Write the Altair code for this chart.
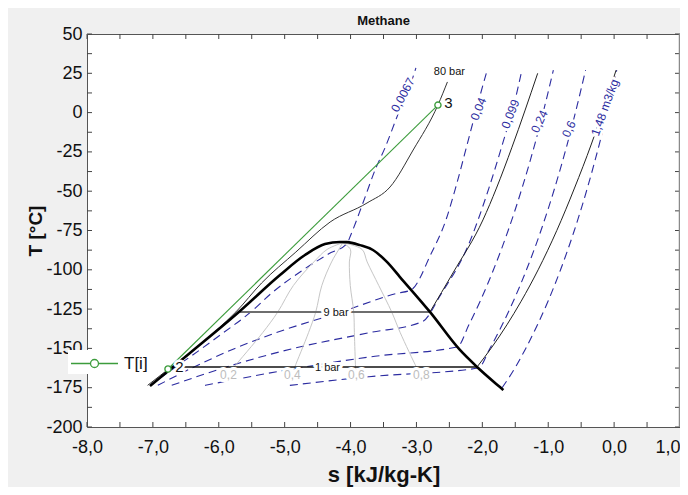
import altair as alt
import pandas as pd

FONT = "Arial, Liberation Sans, sans-serif"
GREEN = "#3c9c3c"
BLUE = "#2b2ba0"

# ---------------- axis values ----------------
x_labels = [-8, -7, -6, -5, -4, -3, -2, -1, 0, 1]
y_labels = [50, 25, 0, -25, -50, -75, -100, -125, -150, -175, -200]
x_ticks = [-8, -7.5, -7, -6.5, -6, -5.5, -5, -4.5, -4, -3.5, -3, -2.5, -2, -1.5, -1, -0.5, 0, 0.5, 1]
y_ticks = [50, 37.5, 25, 12.5, 0, -12.5, -25, -37.5, -50, -62.5, -75, -87.5, -100, -112.5,
           -125, -137.5, -150, -162.5, -175, -187.5, -200]

# ---------------- saturation dome ----------------
dome_s = [-7.044, -6.437, -5.678, -5.071, -4.692, -4.388, -4.161, -4.055, -3.857, -3.66, -3.448,
          -3.25, -2.795, -2.34, -2.08, -1.733, -1.68]
dome_T = [-173.9, -152.9, -126.2, -103.3, -90.6, -83.6, -82.3, -82.4, -84.3, -87.4, -95.0,
          -104.6, -126.8, -151.0, -161.8, -174.6, -176.5]

# ---------------- quality lines ----------------
q_T = [-82.8, -87, -95, -110, -126.8, -140, -161.8, -163.5]
q02_s = [-4.12, -4.354, -4.557, -4.868, -5.104, -5.334, -5.768, -5.80]
q04_s = [-4.12, -4.178, -4.288, -4.436, -4.528, -4.638, -4.846, -4.86]
q06_s = [-4.12, -4.002, -4.018, -4.004, -3.952, -3.942, -3.924, -3.92]
q08_s = [-4.12, -3.826, -3.748, -3.572, -3.376, -3.246, -3.002, -2.98]

# ---------------- isobars ----------------
p80_s = [-7.08, -6.78, -6.48, -6.03, -5.74, -5.35, -4.83, -4.31, -3.75, -3.40, -3.05, -2.674, -2.53]
p80_T = [-173.5, -163.7, -154.2, -138.3, -126.8, -108.4, -88.7, -69.6, -57.5, -47.3, -23.8, 4.8, 19.5]
p9_s = [-5.68, -2.795, -2.446, -1.991, -1.785, -1.55, -1.16]
p9_T = [-126.8, -126.8, -102, -68.3, -48, -22, 25]
p1_s = [-6.69, -2.08, -1.868, -1.627, -1.411, -1.153, -0.870, -0.601, -0.345, -0.14, 0.03]
p1_T = [-161.8, -161.8, -150, -135, -120, -100, -75, -48, -20, 5, 27]

# ---------------- isochores ----------------
v0067_s = [-7.044, -6.654, -6.256, -5.929, -5.513, -5.204, -4.718, -4.337, -4.05, -4.009, -3.812,
           -3.615, -3.478, -3.296, -3.068, -3.008]
v0067_T = [-173.5, -161.8, -150, -140, -126.8, -115, -100, -90, -83, -79.1, -57.5,
           -35.2, -22.5, -2.8, 20.7, 28.4]
v004_s = [-6.925, -6.375, -5.755, -5.13, -4.139, -3.30, -3.082, -2.78, -2.55, -2.40, -2.21, -2.04, -1.92]
v004_T = [-173.5, -161.8, -150, -140, -126.8, -115, -112.8, -90, -68, -47, -17, 10, 28]
v0099_s = [-6.714, -5.881, -4.867, -3.714, -2.912, -2.62, -2.23, -1.90, -1.68, -1.52, -1.40]
v0099_T = [-173.5, -161.8, -150, -140, -133, -115, -86, -48, -18, 5, 27]
v024_s = [-6.209, -4.70, -3.63, -2.378, -2.204, -2.033, -1.831, -1.608, -1.397, -1.203, -1.048, -0.922]
v024_T = [-173.5, -161.8, -155, -149, -135, -120, -100, -75, -48, -20, 5, 27]
v06_s = [-4.921, -3.72, -2.06, -1.885, -1.698, -1.530, -1.330, -1.110, -0.902, -0.711, -0.558, -0.433]
v06_T = [-173.5, -168, -162.5, -150, -135, -120, -100, -75, -48, -20, 5, 27]
v148_s = [-1.70, -1.542, -1.341, -1.163, -1.003, -0.813, -0.604, -0.406, -0.224, -0.078, 0.04]
v148_T = [-175, -165, -150, -135, -120, -100, -75, -48, -20, 5, 27]

# ---------------- process T[i] ----------------
ti_s = [-6.771, -2.674]
ti_T = [-163.1, 4.8]
ti_name = "T[i]"

# ---------------- labels ----------------
iso_text = ["0,0067", "0,04", "0,099", "0,24", "0,6", "1,48 m3/kg"]
iso_s = [-3.205, -2.059, -1.574, -1.134, -0.686, -0.14]
iso_T = [11.2, 2.3, -0.9, -5.7, -10.4, 3.2]
iso_angle = [298, 292, 291, 295, 295, 290]

bar_text = ["80 bar", "9 bar", "1 bar"]
bar_s = [-2.50, -4.22, -4.35]
bar_T = [26.0, -127.3, -162.3]

qual_text = ["0,2", "0,4", "0,6", "0,8"]
qual_s = [-5.853, -4.882, -3.911, -2.924]
qual_T = [-166.9, -166.9, -166.9, -166.9]

pt_text = ["2", "3"]
pt_s = [-6.596, -2.514]
pt_T = [-161.8, 6.4]

# ---------------- helpers ----------------
xscale = alt.Scale(domain=[-8, 1], nice=False, zero=False)
yscale = alt.Scale(domain=[-200, 50], nice=False, zero=False)

x_axis = alt.Axis(values=x_labels, ticks=False, domain=False, grid=False, labelFlush=False,
                  labelOverlap=False,
                  labelAlign={"expr": "datum.value >= 1 ? 'right' : 'center'"},
                  labelExpr="replace((datum.value < 0 ? '-' : '') + format(abs(datum.value), '.1f'), '.', ',')",
                  labelFont=FONT, labelFontSize=18, labelColor="#111", labelPadding=11,
                  title="s [kJ/kg-K]", titleFont=FONT, titleFontSize=22, titleFontWeight="bold",
                  titleColor="#111", titleX=296.5, titleY=47, titleBaseline="middle", titleAlign="center")
y_axis = alt.Axis(values=y_labels, ticks=False, domain=False, grid=False, labelFlush=False,
                  labelOverlap=False,
                  labelExpr="(datum.value < 0 ? '-' : '') + format(abs(datum.value), 'd')",
                  labelFont=FONT, labelFontSize=18, labelColor="#111", labelPadding=5,
                  title="T [°C]", titleFont=FONT, titleFontSize=19, titleFontWeight="bold",
                  titleColor="#111", titleX=-52, titleY=196.5, titleAngle=270,
                  titleBaseline="middle", titleAlign="center")

X = alt.X("s:Q", scale=xscale, axis=x_axis)
Y = alt.Y("T:Q", scale=yscale, axis=y_axis)


def frame(s, T):
    return pd.DataFrame({"s": s, "T": T, "i": list(range(len(s)))})


def line(s, T, color, width, dash=None, interp="monotone"):
    kw = dict(color=color, strokeWidth=width, interpolate=interp, clip=True)
    if dash:
        kw["strokeDash"] = dash
    return alt.Chart(frame(s, T)).mark_line(**kw).encode(x=X, y=Y, order="i:Q")


def labels(s, T, text, size, color, angle=None, halo=5):
    df = pd.DataFrame({"s": s, "T": T, "txt": text})
    enc = dict(x=X, y=Y, text="txt:N")
    if angle is not None:
        df["ang"] = angle
        enc["angle"] = alt.Angle("ang:Q", scale=None)
    base = alt.Chart(df)
    bg = base.mark_text(font=FONT, fontSize=size, stroke="white", strokeWidth=halo,
                        strokeJoin="round", fill="white", align="center", baseline="middle").encode(**enc)
    fg = base.mark_text(font=FONT, fontSize=size, color=color,
                        align="center", baseline="middle").encode(**enc)
    return [bg, fg]


layers = []

# isochores (dashed blue)
for s_, T_ in [(v0067_s, v0067_T), (v004_s, v004_T), (v0099_s, v0099_T),
               (v024_s, v024_T), (v06_s, v06_T), (v148_s, v148_T)]:
    layers.append(line(s_, T_, BLUE, 1.1, dash=[8, 5]))

# quality lines
for qs in [q02_s, q04_s, q06_s, q08_s]:
    layers.append(line(qs, q_T, "#c6c6c6", 1, interp="catmull-rom"))

# isobars
layers.append(line(p80_s, p80_T, "#333333", 1))
layers.append(line(p9_s[1:], p9_T[1:], "#222222", 1))
layers.append(line(p9_s[:2], p9_T[:2], "#6e6e6e", 2, interp="linear"))
layers.append(line(p1_s[1:], p1_T[1:], "#222222", 1))
layers.append(line(p1_s[:2], p1_T[:2], "#111111", 1.5, interp="linear"))

# saturation dome
layers.append(line(dome_s, dome_T, "black", 2.6))

# T[i] process line with legend
LEG_PATH = "M-2.24,0L-0.38,0M0.38,0L2.24,0M0.38,0A0.38,0.38,0,1,1,-0.38,0A0.38,0.38,0,1,1,0.38,0"
ti_df = pd.DataFrame({"s": ti_s, "T": ti_T, "name": [ti_name] * len(ti_s), "i": [0, 1]})
ti_line = alt.Chart(ti_df).mark_line(strokeWidth=1.1).encode(
    x=X, y=Y, order="i:Q",
    color=alt.Color("name:N", scale=alt.Scale(domain=[ti_name], range=[GREEN]),
                    legend=alt.Legend(title=None, orient="none", legendX=-19, legendY=316,
                                      fillColor="white", padding=2, symbolType=LEG_PATH,
                                      symbolSize=441, symbolStrokeWidth=1.3,
                                      symbolFillColor="white", symbolStrokeColor=GREEN,
                                      labelFont=FONT, labelFontSize=17, labelColor="#111",
                                      labelOffset=18, symbolOffset=13)))
layers.append(ti_line)

# labels
layers += labels(iso_s, iso_T, iso_text, 12, BLUE, angle=iso_angle, halo=6)
layers += labels(bar_s, bar_T, bar_text, 11, "#111", halo=6)
layers += labels(qual_s, qual_T, qual_text, 12, "#bdbdbd", halo=6)
layers += labels(pt_s, pt_T, pt_text, 15, "#111", halo=5)

ti_pts = alt.Chart(frame(ti_s, ti_T)).mark_point(shape="circle", size=38, filled=True, fill="white",
                                                 stroke=GREEN, strokeWidth=1.4, opacity=1).encode(x=X, y=Y)
layers.append(ti_pts)

# inward tick marks on all four sides, plus the heavier right frame edge
xt = pd.DataFrame({"s": x_ticks})
yt = pd.DataFrame({"T": y_ticks})
layers.append(alt.Chart(xt).mark_rule(color="#444", strokeWidth=1).encode(x=X, y=alt.value(393), y2=alt.value(388)))
layers.append(alt.Chart(xt).mark_rule(color="#444", strokeWidth=1).encode(x=X, y=alt.value(0), y2=alt.value(5)))
layers.append(alt.Chart(yt).mark_rule(color="#444", strokeWidth=1).encode(y=Y, x=alt.value(0), x2=alt.value(5)))
layers.append(alt.Chart(yt).mark_rule(color="#444", strokeWidth=1).encode(y=Y, x=alt.value(593), x2=alt.value(588)))
layers.append(alt.Chart(pd.DataFrame({"s": [1]})).mark_rule(color="#8a8a8a", strokeWidth=2.5).encode(
    x=X, y=alt.value(0), y2=alt.value(393)))

chart = alt.layer(*layers).properties(
    width=593, height=393,
    title=alt.TitleParams("Methane", font=FONT, fontSize=13, fontWeight="bold", color="#111",
                          anchor="middle", offset=8, dy=11),
    autosize=alt.AutoSizeParams(type="none"),
    padding={"left": 79, "top": 26, "right": 0, "bottom": 60},
).configure(background="#f0f0f0").configure_view(fill="white", stroke="#555", strokeWidth=1)

chart.save("out.html", embed_options={"renderer": "svg", "actions": False})
